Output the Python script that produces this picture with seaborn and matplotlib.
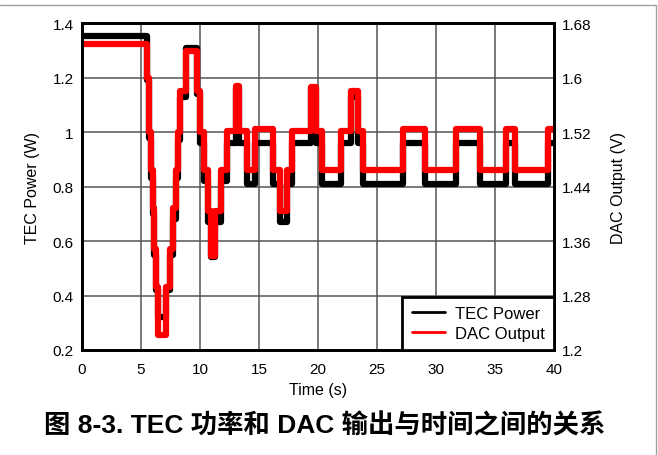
import matplotlib
matplotlib.use('Agg')
import matplotlib.pyplot as plt
import matplotlib.lines as mlines
import pandas as pd
import seaborn as sns

# step breakpoints (s)
time_s = [0.0, 5.55, 5.70, 5.85, 6.00, 6.12, 6.25, 6.40, 7.10, 7.45, 7.75, 7.95,
          8.15, 8.30, 8.85, 9.75, 9.97, 10.30, 10.65, 10.95, 11.25, 11.80, 12.25,
          13.03, 13.31, 14.01, 14.64, 16.19, 16.75, 17.38, 17.83, 19.44, 19.86,
          20.37, 21.98, 22.83, 23.39, 23.81, 27.20, 29.04, 31.73, 33.70, 35.97,
          36.67, 39.49, 40.0]

# TEC power level for each step (W)
tec_w = [1.355, 1.19, 0.98, 0.83, 0.70, 0.55, 0.42, 0.32, 0.42, 0.55, 0.68, 0.83,
         0.97, 1.13, 1.31, 1.14, 0.96, 0.82, 0.67, 0.54, 0.67, 0.82, 0.96,
         1.16, 0.96, 0.81, 0.96, 0.81, 0.67, 0.81, 0.96, 1.16, 0.96,
         0.81, 0.96, 1.13, 0.96, 0.81, 0.96, 0.81, 0.96, 0.81, 0.96,
         0.81, 0.96, 0.96]

# DAC output level for each step (V)
dac_v = [1.650, 1.600, 1.520, 1.464, 1.408, 1.348, 1.292, 1.222, 1.292, 1.348, 1.408, 1.464,
         1.520, 1.580, 1.640, 1.580, 1.520, 1.464, 1.404, 1.338, 1.404, 1.464, 1.522,
         1.588, 1.522, 1.464, 1.524, 1.464, 1.404, 1.464, 1.522, 1.586, 1.522,
         1.464, 1.522, 1.580, 1.522, 1.464, 1.524, 1.464, 1.524, 1.464, 1.524,
         1.464, 1.524, 1.524]

x_ticks = [0, 5, 10, 15, 20, 25, 30, 35, 40]
y_ticks_w = [0.2, 0.4, 0.6, 0.8, 1.0, 1.2, 1.4]
y_labels_w = ['0.2', '0.4', '0.6', '0.8', '1', '1.2', '1.4']
y_ticks_v = [1.2, 1.28, 1.36, 1.44, 1.52, 1.6, 1.68]
y_labels_v = ['1.2', '1.28', '1.36', '1.44', '1.52', '1.6', '1.68']

df = pd.DataFrame({'t': time_s, 'tec': tec_w, 'dac': dac_v})

sns.set_style('white')
plt.rcParams['font.family'] = ['Liberation Sans', 'DejaVu Sans']
plt.rcParams['text.color'] = 'black'
plt.rcParams['axes.labelcolor'] = 'black'
plt.rcParams['xtick.color'] = 'black'
plt.rcParams['ytick.color'] = 'black'

fig = plt.figure(figsize=(6.58, 4.56), dpi=100)
ax = fig.add_axes([0.1246, 0.2303, 0.7174, 0.7164])

sns.lineplot(data=df, x='t', y='tec', ax=ax, color='black', linewidth=4.5,
             drawstyle='steps-post', legend=False, zorder=3)
ax.set_xlim(0, 40)
ax.set_ylim(0.2, 1.4)
ax.set_xticks(x_ticks)
ax.set_xticklabels([str(v) for v in x_ticks])
ax.set_yticks(y_ticks_w)
ax.set_yticklabels(y_labels_w)
ax.grid(True, color='#555555', linewidth=1.1)
ax.tick_params(length=0, labelsize=11, pad=6)
ax.tick_params(axis='x', pad=9)
ax.set_xlabel('Time (s)', fontsize=11.5, labelpad=4)
ax.set_ylabel('TEC Power (W)', fontsize=11.5, labelpad=9)

ax2 = ax.twinx()
sns.lineplot(data=df, x='t', y='dac', ax=ax2, color='#ff0000', linewidth=4.5,
             drawstyle='steps-post', legend=False)
ax2.set_ylim(1.2, 1.68)
ax2.set_yticks(y_ticks_v)
ax2.set_yticklabels(y_labels_v)
ax2.grid(False)
ax2.tick_params(length=0, labelsize=11, pad=6)
ax2.set_ylabel('DAC Output (V)', fontsize=11.5, labelpad=14)

for a in (ax, ax2):
    for s in a.spines.values():
        s.set_color('black')
        s.set_linewidth(2)

handles = [mlines.Line2D([], [], color='black', linewidth=2, label='TEC Power'),
           mlines.Line2D([], [], color='#ff0000', linewidth=2, label='DAC Output')]
leg = ax2.legend(handles=handles, loc='lower right', borderaxespad=0, fontsize=12,
                 fancybox=False, framealpha=1, edgecolor='black',
                 handlelength=2.0, handletextpad=0.6, labelspacing=0.3, borderpad=0.55)
leg.get_frame().set_linewidth(2)

fig.text(0.494, 0.066, '图 8-3. TEC 功率和 DAC 输出与时间之间的关系', ha='center', va='center',
         fontsize=19, fontweight='bold', color='black',
         family=['Liberation Sans', 'Noto Sans CJK SC'])

# page border (top and right edge)
fig.add_artist(mlines.Line2D([0, 0.997], [0.987, 0.987], color='#a0a0a0', linewidth=1,
                             transform=fig.transFigure))
fig.add_artist(mlines.Line2D([0.997, 0.997], [0, 0.987], color='#a0a0a0', linewidth=1,
                             transform=fig.transFigure))

fig.savefig('out.png', dpi=100)
